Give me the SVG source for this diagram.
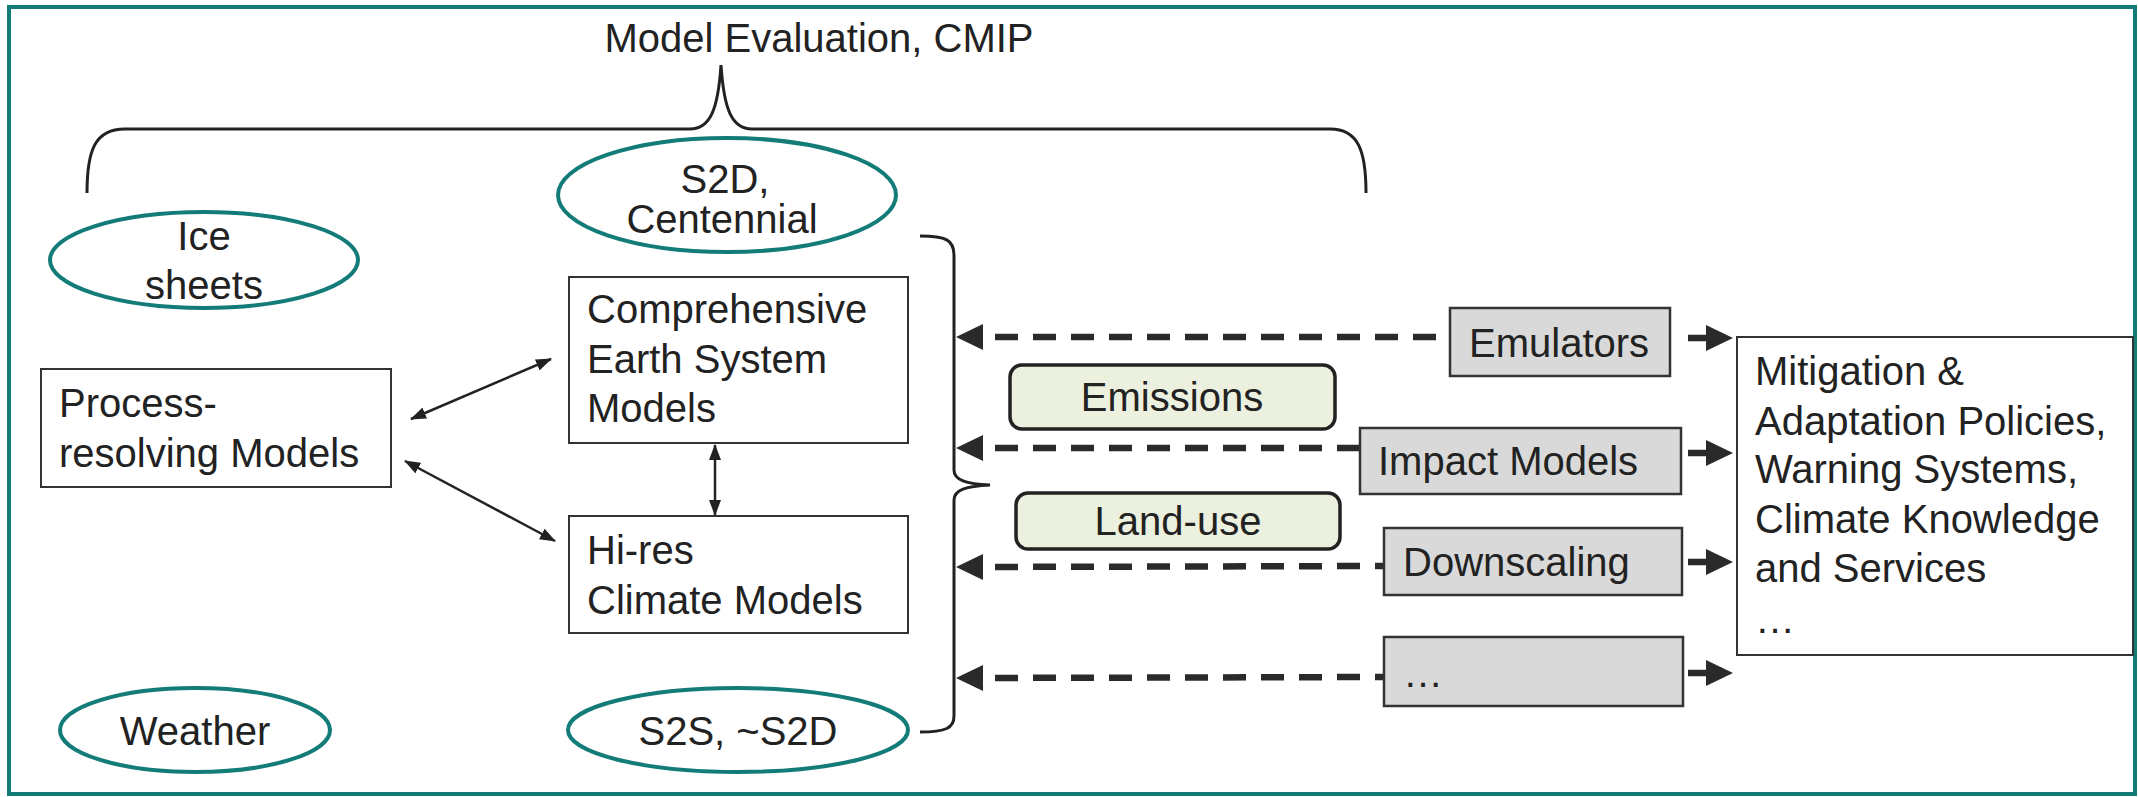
<svg xmlns="http://www.w3.org/2000/svg" width="2138" height="797" viewBox="0 0 2138 797">
<style>
  text { font-family: "Liberation Sans", Arial, sans-serif; font-size: 40px; fill: #222; }
  .mid { text-anchor: middle; }
  .oval { fill: #fff; stroke: #137c78; stroke-width: 4; }
  .box { fill: #fff; stroke: #333; stroke-width: 2; }
  .gray { fill: #d9d9d9; stroke: #333; stroke-width: 2.5; }
  .green { fill: #ebf1de; stroke: #222; stroke-width: 3.5; }
  .thin { stroke: #222; stroke-width: 2.5; fill: none; marker-start: url(#sm); marker-end: url(#sm); }
  .dash { stroke: #2a2a2a; stroke-width: 6.5; fill: none; stroke-dasharray: 23 15; stroke-dashoffset: 25; marker-start: url(#big); }
  .solid { stroke: #2a2a2a; stroke-width: 6.5; fill: none; marker-end: url(#big); }
  .brace { stroke: #222; stroke-width: 3; fill: none; }
</style>
<defs>
  <marker id="sm" markerUnits="userSpaceOnUse" markerWidth="16" markerHeight="12" viewBox="0 0 16 12" refX="15" refY="6" orient="auto-start-reverse">
    <path d="M0,0 L16,6 L0,12 z" fill="#222"/>
  </marker>
  <marker id="big" markerUnits="userSpaceOnUse" markerWidth="28" markerHeight="26" viewBox="0 0 28 26" refX="1" refY="13" orient="auto-start-reverse">
    <path d="M0,0 L27,13 L0,26 z" fill="#2a2a2a"/>
  </marker>
</defs>
<rect x="0" y="0" width="2138" height="797" fill="#fff"/>
<rect x="9" y="7" width="2126" height="787" fill="none" stroke="#137c78" stroke-width="4"/>

<g id="title">
  <text class="mid" x="819" y="52">Model Evaluation, CMIP</text>
</g>

<g id="connectors">
  <path class="brace" d="M87,193 C87,150 95,129 125,129 L690,129 C710,129 718,110 721,65 C724,110 732,129 752,129 L1330,129 C1358,129 1366,150 1366,193"/>
  <path class="brace" d="M920,236 C946,236 954,240 954,255 L954,470 C954,480 966,484 990,485 C966,486 954,490 954,500 L954,716 C954,728 946,732 920,732"/>
  <line class="thin" x1="411" y1="419" x2="551" y2="359"/>
  <line class="thin" x1="405" y1="461" x2="555" y2="541"/>
  <line class="thin" x1="715" y1="445" x2="715" y2="515"/>
  <line class="dash" x1="982" y1="337" x2="1450" y2="337"/>
  <line class="dash" x1="982" y1="448" x2="1360" y2="448"/>
  <line class="dash" x1="982" y1="567" x2="1384" y2="566"/>
  <line class="dash" x1="982" y1="678" x2="1384" y2="677"/>
  <line class="solid" x1="1688" y1="338" x2="1707" y2="338"/>
  <line class="solid" x1="1688" y1="453" x2="1707" y2="453"/>
  <line class="solid" x1="1688" y1="562" x2="1707" y2="562"/>
  <line class="solid" x1="1688" y1="673" x2="1707" y2="673"/>
</g>

<g id="s2d">
  <ellipse class="oval" cx="727" cy="195" rx="169" ry="57"/>
  <text class="mid" x="725" y="193">S2D,</text>
  <text class="mid" x="722" y="233">Centennial</text>
</g>
<g id="ice">
  <ellipse class="oval" cx="204" cy="260" rx="154" ry="48"/>
  <text class="mid" x="204" y="250">Ice</text>
  <text class="mid" x="204" y="299">sheets</text>
</g>
<g id="weather">
  <ellipse class="oval" cx="195" cy="730" rx="135" ry="42"/>
  <text class="mid" x="195" y="745">Weather</text>
</g>
<g id="s2s">
  <ellipse class="oval" cx="738" cy="730" rx="170" ry="42"/>
  <text class="mid" x="738" y="745">S2S, ~S2D</text>
</g>
<g id="process">
  <rect class="box" x="41" y="369" width="350" height="118"/>
  <text x="59" y="417">Process-</text>
  <text x="59" y="467">resolving Models</text>
</g>
<g id="comprehensive">
  <rect class="box" x="569" y="277" width="339" height="166"/>
  <text x="587" y="323">Comprehensive</text>
  <text x="587" y="373">Earth System</text>
  <text x="587" y="422">Models</text>
</g>
<g id="hires">
  <rect class="box" x="569" y="516" width="339" height="117"/>
  <text x="587" y="564">Hi-res</text>
  <text x="587" y="614">Climate Models</text>
</g>
<g id="emissions">
  <rect class="green" x="1010" y="365" width="325" height="64" rx="12"/>
  <text class="mid" x="1172" y="411">Emissions</text>
</g>
<g id="landuse">
  <rect class="green" x="1016" y="493" width="324" height="56" rx="12"/>
  <text class="mid" x="1178" y="535">Land-use</text>
</g>
<g id="emulators">
  <rect class="gray" x="1450" y="308" width="220" height="68"/>
  <text x="1469" y="357">Emulators</text>
</g>
<g id="impact">
  <rect class="gray" x="1360" y="428" width="321" height="66"/>
  <text x="1378" y="475">Impact Models</text>
</g>
<g id="downscaling">
  <rect class="gray" x="1384" y="528" width="298" height="67"/>
  <text x="1403" y="576">Downscaling</text>
</g>
<g id="other">
  <rect class="gray" x="1384" y="637" width="299" height="69"/>
  <text x="1403" y="687">…</text>
</g>
<g id="policies">
  <rect class="box" x="1737" y="337" width="396" height="318" stroke-width="2.5"/>
  <text x="1755" y="385">Mitigation &amp;</text>
  <text x="1755" y="435">Adaptation Policies,</text>
  <text x="1755" y="483">Warning Systems,</text>
  <text x="1755" y="533">Climate Knowledge</text>
  <text x="1755" y="582">and Services</text>
  <text x="1755" y="633">…</text>
</g>
</svg>
